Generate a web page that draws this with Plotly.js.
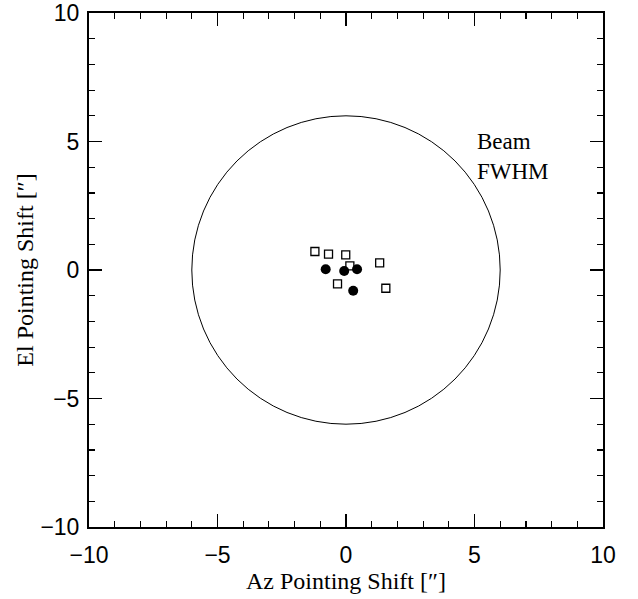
<!DOCTYPE html>
<html>
<head>
<meta charset="utf-8">
<script src="https://cdn.plot.ly/plotly-3.0.1.min.js"></script>
<style>html,body{margin:0;padding:0;background:#fff;}#plot{width:638px;height:599px;}</style>
</head>
<body>
<div id="plot"></div>
<script>
// Open squares
const sqAz = [-1.21, -0.68, -0.01, 0.15, 1.31, -0.33, 1.55];
const sqEl = [0.72, 0.62, 0.59, 0.16, 0.28, -0.54, -0.71];
// Filled circles
const ciAz = [-0.79, -0.07, 0.43, 0.28];
const ciEl = [0.03, -0.04, 0.03, -0.81];
// Beam FWHM radius (arcsec)
const beamRadius = 6;
const tickVals = [-10, -5, 0, 5, 10];
const tickText = ['\u221210', '\u22125', '0', '5', '10'];

const serif = 'Liberation Serif';
const sans = 'Liberation Sans';

const axisCommon = {
  range: [-10, 10],
  tickvals: tickVals,
  ticktext: tickText,
  ticks: 'inside',
  ticklen: 13,
  tickwidth: 1.2,
  tickcolor: '#000',
  minor: {dtick: 1, ticks: 'inside', ticklen: 6, tickwidth: 1.2, tickcolor: '#000', showgrid: false},
  showline: true,
  linecolor: '#000',
  linewidth: 2,
  mirror: 'allticks',
  showgrid: false,
  zeroline: false,
  tickfont: {family: sans, size: 23, color: '#000'}
};

const data = [
  {x: sqAz, y: sqEl, mode: 'markers', type: 'scatter',
   marker: {symbol: 'square-open', size: 8, color: '#000', line: {width: 1.3, color: '#000'}}},
  {x: ciAz, y: ciEl, mode: 'markers', type: 'scatter',
   marker: {symbol: 'circle', size: 10, color: '#000'}}
];

const layout = {
  width: 638, height: 599,
  margin: {l: 89, r: 35, t: 13, b: 72},
  paper_bgcolor: '#fff', plot_bgcolor: '#fff',
  showlegend: false,
  xaxis: Object.assign({}, axisCommon, {
    ticklabelstandoff: 6,
    title: {text: 'Az Pointing Shift [\u2033]', font: {family: serif, size: 24, color: '#000'}, standoff: 4}
  }),
  yaxis: Object.assign({}, axisCommon, {
    ticklabelstandoff: 3,
    title: {text: 'El Pointing Shift [\u2033]', font: {family: serif, size: 24, color: '#000'}, standoff: 0}
  }),
  shapes: [{type: 'circle', xref: 'x', yref: 'y', x0: -beamRadius, x1: beamRadius, y0: -beamRadius, y1: beamRadius,
            line: {color: '#000', width: 1}}],
  annotations: [{x: 5.0, y: 4.4, xref: 'x', yref: 'y', xanchor: 'left', yanchor: 'middle', align: 'left',
                 showarrow: false, text: 'Beam<br>FWHM', font: {family: serif, size: 23, color: '#000'}}]
};

Plotly.newPlot('plot', data, layout, {staticPlot: true});
</script>
</body>
</html>
